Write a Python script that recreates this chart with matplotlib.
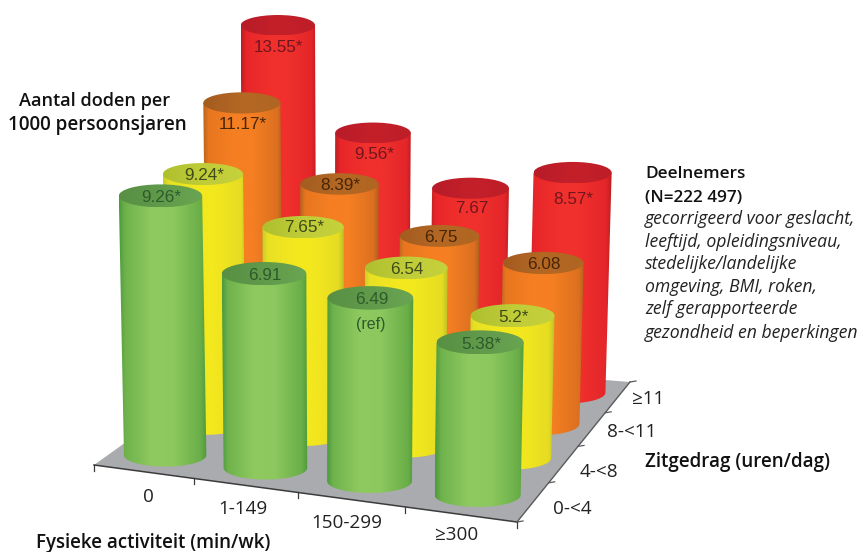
#!/usr/bin/env python3

import numpy as np
import matplotlib
matplotlib.use("Agg")
import matplotlib.pyplot as plt
from matplotlib.colors import LinearSegmentedColormap
from matplotlib.patches import Ellipse, Polygon

activity = ["0", "1-149", "150-299", "≥300"]
sitting = ["0-<4", "4-<8", "8-<11", "≥11"]

# rows follow sitting, columns follow activity
green_vals = [9.26, 6.91, 6.49, 5.38]
yellow_vals = [9.24, 7.65, 6.54, 5.2]
orange_vals = [11.17, 8.39, 6.75, 6.08]
red_vals = [13.55, 9.56, 7.67, 8.57]

green_labels = ["9.26*", "6.91", "6.49", "5.38*"]
yellow_labels = ["9.24*", "7.65*", "6.54", "5.2*"]
orange_labels = ["11.17*", "8.39*", "6.75", "6.08"]
red_labels = ["13.55*", "9.56*", "7.67", "8.57*"]

# floor corners in picture pixels
FL = np.array([94.0, 465.0])
FR = np.array([517.0, 522.0])
BR = np.array([630.0, 382.0])
BL = np.array([252.0, 352.0])

SANS = "Liberation Sans"
TEXT = "Open Sans"
STOPS = [0, 0.07, 0.38, 0.62, 0.93, 1]


def warp_u(u):
    return u - 0.075 * u * (1 - u)


def warp_v(v):
    return v + 0.16 * v * (1 - v)


def floor_xy(u, v):
    # u, v are 0..1 across the floor
    tu, tv = warp_u(u), warp_v(v)
    front = FL + tu * (FR - FL)
    back = BL + tu * (BR - BL)
    return front + tv * (back - front)


def gradient(ax, patch, colors, zorder):
    if len(colors) == len(STOPS):
        colors = list(zip(STOPS, colors))
    cmap = LinearSegmentedColormap.from_list("c", colors)
    verts = patch.get_path().transformed(patch.get_patch_transform()).vertices
    x0, x1 = verts[:, 0].min(), verts[:, 0].max()
    y0, y1 = verts[:, 1].min(), verts[:, 1].max()
    patch.set_facecolor("none")
    patch.set_edgecolor("none")
    ax.add_patch(patch)
    im = ax.imshow(np.linspace(0, 1, 256).reshape(1, -1), cmap=cmap, aspect="auto",
                   extent=(x0, x1, y1, y0), zorder=zorder, interpolation="bilinear")
    im.set_clip_path(patch)


def cylinder(ax, col, row, value, body, top, zorder):
    u, v = (col + 0.5) / 4, (row + 0.5) / 4
    tu, tv = warp_u(u), warp_v(v)
    bx, by = floor_xy(u, v)
    scale = 28.7 - 3.6 * tv + 0.5 * (tu - 0.5)
    h = value * scale
    rx = 43.5 - 6 * tv + 2.5 * (tu - 0.5)
    ry = rx * 0.275
    tx = bx + (bx - 330) * h * 1.1e-4
    ty = by - h

    a = np.linspace(np.pi, 0, 60)
    arc = np.column_stack([bx + (rx - 0.5) * np.cos(a), by + ry * np.sin(a)])
    pts = np.vstack([[tx - rx, ty], arc, [tx + rx, ty]])
    gradient(ax, Polygon(pts, closed=True), body, zorder)
    gradient(ax, Ellipse((tx, ty), 2 * rx, 2 * ry), top, zorder + 0.1)
    return tx, ty


fig = plt.figure(figsize=(8.66, 5.52), dpi=100)
ax = fig.add_axes([0, 0, 1, 1])
ax.set_axis_off()

# floor
ax.add_patch(Polygon([FL, FR, BR, BL], closed=True, facecolor="#a9abae", edgecolor="none", zorder=1))
ax.plot([FL[0], FR[0]], [FL[1], FR[1]], color="#3c3c3c", lw=1.1, zorder=2)
ax.plot([FR[0], BR[0]], [FR[1], BR[1]], color="#5a5a5a", lw=1.0, zorder=2)
for i in range(5):
    x, y = floor_xy(i / 4, 0)
    ax.plot([x, x], [y, y + 6], color="#3c3c3c", lw=0.9, zorder=2)
    x, y = floor_xy(1, i / 4)
    ax.plot([x, x + 6], [y, y - 1], color="#5a5a5a", lw=0.9, zorder=2)

rows = [
    (green_vals, green_labels, 0, "#2e5a2c",
     ["#4c9a3c", "#6fb24c", "#8fca60", "#8cc85e", "#6aae48", "#4c9a3c"],
     ["#588f44", "#609a4a", "#6aa553"]),
    (yellow_vals, yellow_labels, 1, "#3e4a18",
     ["#c4cc2a", "#e8e024", "#f3e81e", "#f3e81e", "#e6dc22", "#bcc028"],
     ["#aebf2e", "#c0cc38", "#c6d23c"]),
    (orange_vals, orange_labels, 2, "#472608",
     ["#b4661f", "#e8761f", "#f57f22", "#f57f22", "#dc7020", "#ac601e"],
     ["#a35c20", "#b46824", "#b06522"]),
    (red_vals, red_labels, 3, "#731520",
     ["#bc1e22", "#e8262a", "#f0302c", "#f0302c", "#e4262a", "#b81e22"],
     ["#b71c28", "#c4202a", "#bd1e28"]),
]
# how far a label sits below the centre of the top, most are on the top itself
label_drop = {(3, 0): 20, (3, 1): 20, (3, 2): 18, (3, 3): 25, (2, 0): 20, (1, 1): -2, (1, 0): -1}

for vals, labels, row, txt, body, top in reversed(rows):
    z = 10 + (3 - row) * 5
    for col, val in enumerate(vals):
        tx, ty = cylinder(ax, col, row, val, body, top, z)
        ax.text(tx + 1, ty + label_drop.get((row, col), 0) + 2, labels[col], family=SANS, fontsize=12.3,
                color=txt, ha="center", va="center", zorder=z + 1)
        if labels[col] == "6.49":
            ax.text(tx, ty + 27, "(ref)", family=SANS, fontsize=11.5, color=txt,
                    ha="center", va="center", zorder=z + 1)

ax.set_xlim(0, 866)
ax.set_ylim(552, 0)

# axis category text
for name, x, y in zip(activity, [148, 243, 347, 457], [497, 509, 523, 535]):
    ax.text(x, y, name, family=TEXT, fontsize=13.6, ha="center", va="center", color="#222222")
for name, x, y in zip(sitting, [553, 580, 607, 632], [509, 472, 432, 399]):
    ax.text(x, y, name, family=TEXT, fontsize=13.6, ha="left", va="center", color="#222222")

# titles
TITLE = dict(family=TEXT, weight="semibold", va="center", color="#111111")
ax.text(19, 101, "Aantal doden per", fontsize=13.1, **TITLE)
ax.text(8, 125, "1000 persoonsjaren", fontsize=13.6, **TITLE)
ax.text(36, 543, "Fysieke activiteit (min/wk)", fontsize=13.5, **TITLE)
ax.text(645, 462, "Zitgedrag (uren/dag)", fontsize=13.5, **TITLE)
ax.text(645, 174, "Deelnemers", fontsize=12.3, **TITLE)
ax.text(645, 198, "(N=222 497)", fontsize=12.3, **TITLE)

notes = ["gecorrigeerd voor geslacht,", "leeftijd, opleidingsniveau,", "stedelijke/landelijke",
         "omgeving, BMI, roken,", "zelf gerapporteerde", "gezondheid en beperkingen"]
for line, y in zip(notes, [219, 242, 264, 287, 309, 333]):
    ax.text(645, y, line, family=TEXT, fontsize=12.7, style="italic", va="center", color="#222222")

fig.savefig("out.png", dpi=100)
